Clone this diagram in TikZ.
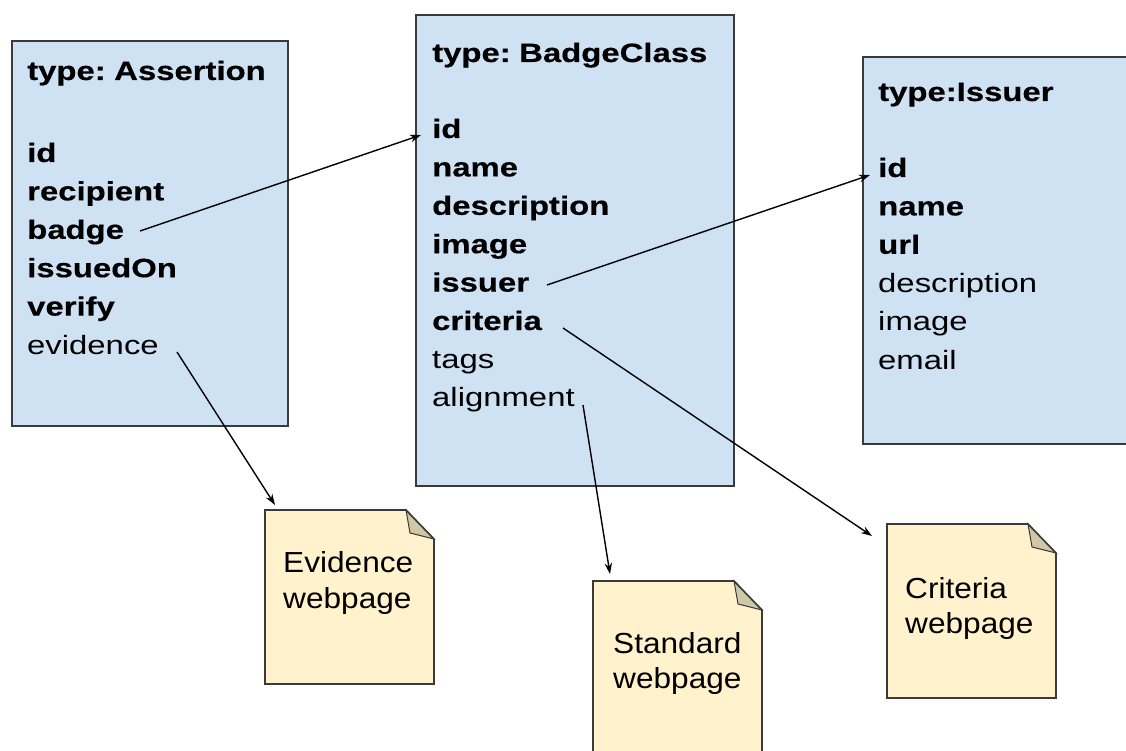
\documentclass[tikz,border=0pt]{standalone}
\usepackage{fontspec}
\setmainfont{Liberation Sans}
\newfontfamily\boxfont{Liberation Sans}[FakeStretch=1.24, WordSpace=0.6]
\newfontfamily\boxbold{Liberation Sans Bold}[FakeStretch=1.24, WordSpace=0.6, FakeBold=0.4]
\newfontfamily\notefont{Liberation Sans}[FakeStretch=1.09]
\usetikzlibrary{arrows.meta}
\definecolor{boxblue}{HTML}{CFE2F3}
\definecolor{noteyellow}{HTML}{FFF2CC}
\definecolor{foldtan}{HTML}{CFC8A6}
\definecolor{edgegray}{HTML}{3A3A3A}
\newcommand\webnote[5]{% name, left, top, right, bottom
  \fill[noteyellow] (#2,#3) -- ({#4-28},#3) -- (#4,{#3+29}) -- (#4,#5) -- (#2,#5) -- cycle;
  \filldraw[fill=foldtan, draw=edgegray, line width=1pt] ({#4-28},#3) -- ({#4-24},{#3+23}) -- (#4,{#3+29}) -- cycle;
  \draw[draw=edgegray, line width=1.6pt, line join=miter] (#2,#3) -- ({#4-28},#3) -- (#4,{#3+29}) -- (#4,#5) -- (#2,#5) -- cycle;
  \coordinate (#1) at (#2,#3);
}
\begin{document}
\begin{tikzpicture}[x=1pt,y=-1pt,
  classbox/.style={draw=edgegray, line width=1.6pt, fill=boxblue, inner sep=0pt, anchor=north west},
  bt/.style={anchor=base west, inner sep=0pt, font=\boxbold\fontsize{26.5}{30}\selectfont},
  rt/.style={anchor=base west, inner sep=0pt, font=\boxfont\fontsize{26.5}{30}\selectfont},
  nt/.style={anchor=base west, inner sep=0pt, font=\notefont\fontsize{29}{34}\selectfont},
  link/.style={draw=black, line width=1.4pt, -{Stealth[length=11pt,width=7.5pt]}},
]
\useasboundingbox (0,0) rectangle (1126,751);
\fill[white] (0,0) rectangle (1126,751);
\clip (0,0) rectangle (1126,751);

% Assertion
\node[classbox, minimum width=276pt, minimum height=385pt] (assertion) at (11,40) {};
\node[bt] (atitle) at (27,80) {type: Assertion};
\node[bt] (aid) at (27,162) {id};
\node[bt] (arecipient) at (27,200.4) {recipient};
\node[bt] (abadge) at (27,238.8) {badge};
\node[bt] (aissued) at (27,277.2) {issuedOn};
\node[bt] (averify) at (27,315.6) {verify};
\node[rt] (aevidence) at (27,354) {evidence};

% BadgeClass
\node[classbox, minimum width=318pt, minimum height=471pt] (badgeclass) at (415,14) {};
\node[bt] (btitle) at (432,62) {type: BadgeClass};
\node[bt] (bid) at (432,138) {id};
\node[bt] (bname) at (432,176.4) {name};
\node[bt] (bdesc) at (432,214.8) {description};
\node[bt] (bimage) at (432,253.2) {image};
\node[bt] (bissuer) at (432,291.6) {issuer};
\node[bt] (bcriteria) at (432,330) {criteria};
\node[rt] (btags) at (432,368.4) {tags};
\node[rt] (balign) at (432,406.8) {alignment};

% Issuer
\node[classbox, minimum width=300pt, minimum height=387pt] (issuer) at (862,56) {};
\node[bt] (ititle) at (878,101) {type:Issuer};
\node[bt] (iid) at (878,177) {id};
\node[bt] (iname) at (878,215.4) {name};
\node[bt] (iurl) at (878,253.8) {url};
\node[rt] (idesc) at (878,292.2) {description};
\node[rt] (iimage) at (878,330.6) {image};
\node[rt] (iemail) at (878,369) {email};

% Notes
\webnote{evnote}{265}{510}{434}{684}
\node[nt] (evtext1) at (283,572) {Evidence};
\node[nt] (evtext2) at (283,608) {webpage};
\webnote{stnote}{593}{581}{762}{790}
\node[nt] (sttext1) at (613,653) {Standard};
\node[nt] (sttext2) at (613,688) {webpage};
\webnote{crnote}{887}{524}{1056}{698}
\node[nt] (crtext1) at (905,598) {Criteria};
\node[nt] (crtext2) at (905,633) {webpage};

% connector end points
\coordinate (badgeout) at (140,231);
\coordinate (bcin) at (421,135);
\coordinate (issuerout) at (547,285);
\coordinate (issin) at (870,175);
\coordinate (critout) at (563,328);
\coordinate (critin) at (872,536);
\coordinate (alignout) at (583,405);
\coordinate (stin) at (610,574);
\coordinate (evout) at (177,352);
\coordinate (evin) at (275,505);

\draw[link] (badgeout) -- (bcin);
\draw[link] (issuerout) -- (issin);
\draw[link] (critout) -- (critin);
\draw[link] (alignout) -- (stin);
\draw[link] (evout) -- (evin);
\end{tikzpicture}
\end{document}
